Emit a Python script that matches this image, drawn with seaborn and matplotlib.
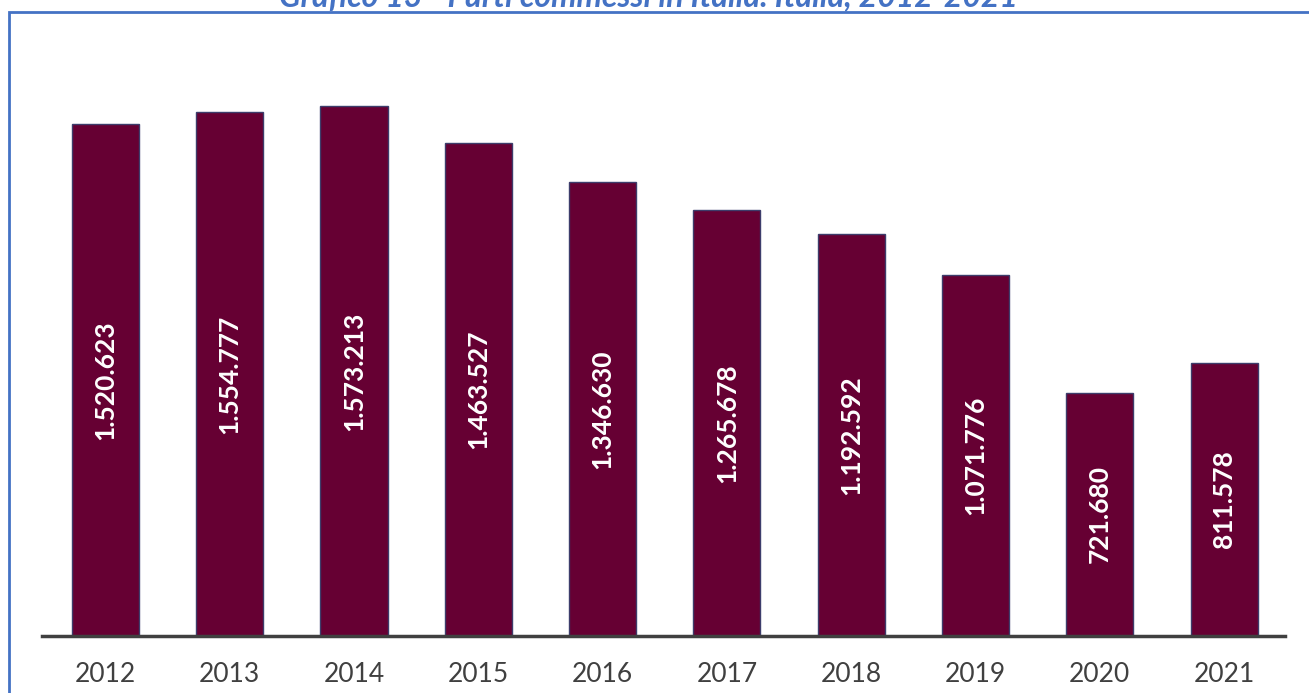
import matplotlib
matplotlib.use("Agg")
import matplotlib.pyplot as plt
import seaborn as sns
import pandas as pd
from matplotlib.patches import Rectangle

years = ["2012", "2013", "2014", "2015", "2016", "2017", "2018", "2019", "2020", "2021"]
values = [1520623, 1554777, 1573213, 1463527, 1346630, 1265678, 1192592, 1071776, 721680, 811578]
title = "Grafico 13 - Furti commessi in Italia. Italia, 2012-2021"

df = pd.DataFrame({"anno": years, "furti": values})

sns.set_theme(style="white")
plt.rcParams["font.family"] = ["Lato", "DejaVu Sans"]

W, H = 1309, 693
fig = plt.figure(figsize=(W / 100, H / 100), dpi=100)
ax = fig.add_axes([42 / W, 1 - 636 / H, (1285 - 42) / W, (636 - 29.5) / H])

sns.barplot(data=df, x="anno", y="furti", color="#660033", saturation=1,
            width=0.54, edgecolor="#3d3d6b", linewidth=1.0, ax=ax)

ax.set_xlim(-0.51, 9.49)
ax.set_ylim(0, 1800000)
ax.set_xlabel("")
ax.set_ylabel("")
ax.set_yticks([])
for s in ["top", "right", "left"]:
    ax.spines[s].set_visible(False)
ax.spines["bottom"].set_color("#404040")
ax.spines["bottom"].set_linewidth(2.5)
ax.tick_params(axis="x", length=0, pad=19, labelsize=19, labelcolor="#404040")

for i, v in enumerate(values):
    lab = f"{v:,}".replace(",", ".")
    ax.text(i, v / 2, lab, rotation=90, ha="center", va="center",
            color="white", fontsize=19, fontweight="bold")

# outer frame
fig.patches.append(Rectangle((9 / W, -0.05), 1.2, 1 - 12 / H + 0.05,
                             transform=fig.transFigure, fill=False,
                             edgecolor="#4472C4", linewidth=2))

fig.text(648 / W, 1 - 6 / H, title, ha="center", va="baseline",
         color="#4472C4", fontsize=23, fontweight="bold", fontstyle="italic")

fig.savefig("out.png", dpi=100)
